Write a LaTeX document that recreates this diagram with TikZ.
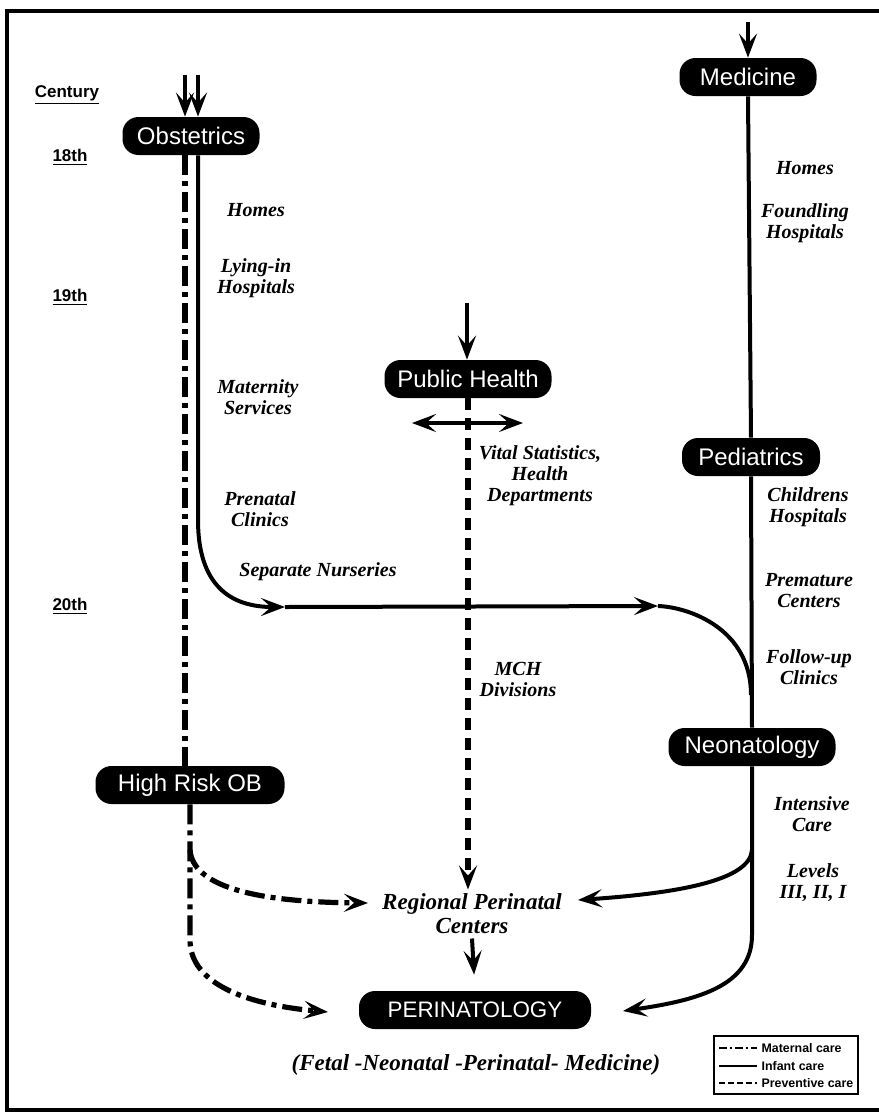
\documentclass[tikz,border=0pt]{standalone}
\usepackage{fontspec}
\setmainfont{Liberation Serif}
\setsansfont{Liberation Sans}
\usetikzlibrary{arrows.meta,calc}
\tikzset{
  >={Stealth[length=12pt,width=9pt,inset=5pt]},
  infant/.style={draw=black, line width=2pt},
  maternal/.style={draw=black, line width=2.6pt,
    dash pattern=on 10pt off 3pt on 2.5pt off 3pt},
  preventive/.style={draw=black, line width=2.6pt,
    dash pattern=on 6pt off 4pt},
  field/.style={fill=black, text=white, rounded corners=8pt,
    minimum height=19pt, inner sep=0pt,
    font=\sffamily\fontsize{12}{14}\selectfont},
  era/.style={font=\sffamily\bfseries\fontsize{8.5}{10}\selectfont},
  setting/.style={align=center, inner sep=1pt,
    font=\bfseries\itshape\fontsize{10}{10.5}\selectfont},
  bigsetting/.style={align=center, inner sep=2pt,
    font=\bfseries\itshape\fontsize{11.5}{12}\selectfont},
  legendtext/.style={anchor=west, inner sep=0pt,
    font=\sffamily\bfseries\fontsize{6.2}{7}\selectfont},
  legendline/.style={draw=black, line width=1.3pt}
}

\begin{document}
\begin{tikzpicture}[x=0.5pt,y=-0.5pt]
  \useasboundingbox (0,0) rectangle (879,1115);
  \draw[line width=1.6pt] (879,11) -- (7,11) -- (7,1110) -- (879,1110);

  % ------------------------------------------------------------------
  % time scale
  \node[era] (century) at (67,95) {\underline{Century}};
  \node[era] (c18) at (70,157) {\underline{18th}};
  \node[era] (c19) at (70,297) {\underline{19th}};
  \node[era] (c20) at (70,606) {\underline{20th}};

  % ------------------------------------------------------------------
  % fields
  \node[field, minimum width=68.5pt] (obst) at (191,136) {Obstetrics};
  \node[field, minimum width=68.5pt] (med) at (748,77) {Medicine};
  \node[field, minimum width=83.5pt] (ph) at (468,379) {Public Health};
  \node[field, minimum width=69pt] (peds) at (751,457) {Pediatrics};
  \node[field, minimum width=83.5pt] (neo) at (752,747) {Neonatology};
  \node[field, minimum width=94.5pt] (hrob) at (190,785) {High Risk OB};
  \node[field, minimum width=116pt,
    font=\sffamily\fontsize{11.2}{13}\selectfont] (peri) at (475,1010) {PERINATOLOGY};

  % ------------------------------------------------------------------
  % settings of care
  \node[setting] (obhomes) at (256,210) {Homes};
  \node[setting] (lyingin) at (256,278) {Lying-in\\Hospitals};
  \node[setting] (maternity) at (258,397) {Maternity\\Services};
  \node[setting] (prenatal) at (260,509) {Prenatal\\Clinics};
  \node[setting] (nurseries) at (318,572) {Separate Nurseries};
  \node[setting] (vital) at (540,476) {Vital Statistics,\\Health\\Departments};
  \node[setting] (mch) at (518,679) {MCH\\Divisions};
  \node[setting] (medhomes) at (805,168) {Homes};
  \node[setting] (foundling) at (805,223) {Foundling\\Hospitals};
  \node[setting] (childrens) at (808,507) {Childrens\\Hospitals};
  \node[setting] (premature) at (809,591) {Premature\\Centers};
  \node[setting] (followup) at (809,667) {Follow-up\\Clinics};
  \node[setting] (intensive) at (812,814) {Intensive\\Care};
  \node[setting] (levels) at (813,883) {Levels\\III, II, I};
  \node[bigsetting] (regional) at (472,914) {Regional Perinatal\\Centers};
  \node[bigsetting] (subtitle) at (476,1065) {(Fetal -Neonatal -Perinatal- Medicine)};

  % ------------------------------------------------------------------
  % incoming arrows
  \coordinate (obstinL) at (185,75);
  \coordinate (obstinR) at (198,75);
  \coordinate (medin) at (748,22);
  \coordinate (phin) at (467,303);
  \draw[infant,->] (obstinL) -- (obstinL |- obst.north);
  \draw[infant,->] (obstinR) -- (obstinR |- obst.north);
  \draw[infant,->] (medin) -- (medin |- med.north);
  \draw[infant,->] (phin) -- (phin |- ph.north);

  % ------------------------------------------------------------------
  % maternal care
  \draw[maternal] (obstinL |- obst.south) -- (obstinL |- hrob.north);
  \coordinate (hrturn) at (190,940);
  \coordinate (hrbranch) at (190,850);
  \coordinate (reginL) at (368,903);
  \coordinate (periinL) at (328,1012);
  \draw[maternal,->] (hrob.south) -- (hrturn)
    .. controls (190,985) and (250,1005) .. (periinL);
  \draw[maternal,->] (hrbranch)
    .. controls (193,885) and (250,902) .. (reginL);

  % ------------------------------------------------------------------
  % infant care
  \coordinate (obstturn) at (198,520);
  \coordinate (nursery) at (285,607);
  \coordinate (infantjoin) at (658,606);
  \draw[infant,->] (obstinR |- obst.south) -- (obstturn)
    .. controls (198,585) and (230,607) .. (nursery);
  \draw[infant,->] (nursery) -- (infantjoin);
  \draw[infant] (infantjoin) .. controls (688,607) and (751,628) .. (751,695);
  \draw[infant] (med.south) -- (peds.north);
  \draw[infant] (peds.south) -- (neo.north);
  \coordinate (neoturn) at (752,935);
  \coordinate (neobranch) at (752,850);
  \coordinate (regin) at (578,900);
  \coordinate (periin) at (623,1011);
  \draw[infant,->] (neo.south) -- (neoturn)
    .. controls (752,985) and (700,1000) .. (periin);
  \draw[infant,->] (neobranch)
    .. controls (750,880) and (680,893) .. (regin);
  \draw[infant,->,shorten >=8pt] (regional.south) -- (peri.north);

  % ------------------------------------------------------------------
  % preventive care
  \coordinate (spreadL) at (412,423);
  \coordinate (spreadR) at (523,423);
  \draw[infant,<->,line width=1.6pt] (spreadL) -- (spreadR);
  \draw[preventive,->] (ph.south) -- (ph.south |- regional.north);

  % ------------------------------------------------------------------
  % legend
  \node[draw, line width=.8pt, minimum width=72pt, minimum height=29pt,
    inner sep=0pt] (legend) at (786,1065) {};
  \draw[legendline, dash pattern=on 4pt off 1.5pt on 1pt off 1.5pt]
    ($(legend.west)+(6,-17)$) -- ++(38,0);
  \draw[legendline] ($(legend.west)+(6,1)$) -- ++(38,0);
  \draw[legendline, dash pattern=on 3pt off 1.5pt]
    ($(legend.west)+(6,18)$) -- ++(38,0);
  \node[legendtext] (legmat) at ($(legend.west)+(48,-17)$) {Maternal care};
  \node[legendtext] (leginf) at ($(legend.west)+(48,1)$) {Infant care};
  \node[legendtext] (legprev) at ($(legend.west)+(48,18)$) {Preventive care};
\end{tikzpicture}
\end{document}
